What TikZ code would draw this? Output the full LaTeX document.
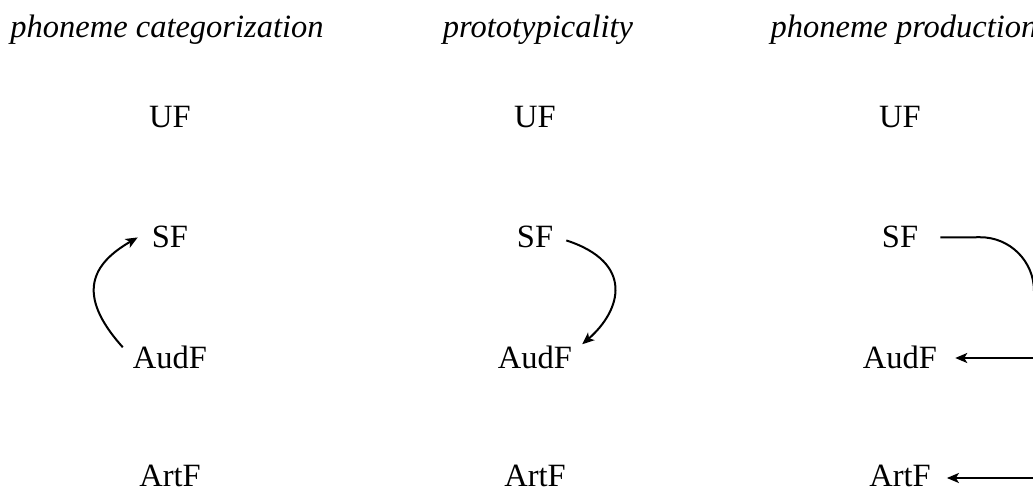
\documentclass[tikz,border=0pt]{standalone}
\usepackage{fontspec}
\setmainfont{Liberation Serif}
\usetikzlibrary{arrows.meta}
\begin{document}
\begin{tikzpicture}[x=1pt,y=1pt,
  lab/.style={anchor=base,inner sep=0pt,font=\fontsize{32.5}{39}\selectfont},
  ttl/.style={anchor=base,inner sep=0pt,font=\fontsize{32.5}{39}\selectfont\itshape},
  conn/.style={line width=2pt,-{Stealth[length=12pt,width=10pt,inset=3pt]}},
  plain/.style={line width=2pt}]
\clip (0,0) rectangle (1033,-490);
% titles
\node[ttl] (t1) at (167,-37) {phoneme categorization};
\node[ttl] (t2) at (538,-37) {prototypicality};
\node[ttl] (t3) at (904,-37) {phoneme production};
% column 1
\node[lab] (uf1) at (170,-127) {UF};
\node[lab] (sf1) at (170,-247) {SF};
\node[lab] (aud1) at (170,-368) {AudF};
\node[lab] (art1) at (170,-486) {ArtF};
% column 2
\node[lab] (uf2) at (535,-127) {UF};
\node[lab] (sf2) at (535,-247) {SF};
\node[lab] (aud2) at (535,-368) {AudF};
\node[lab] (art2) at (535,-486) {ArtF};
% column 3
\node[lab] (uf3) at (900,-127) {UF};
\node[lab] (sf3) at (900,-247) {SF};
\node[lab] (aud3) at (900,-368) {AudF};
\node[lab] (art3) at (900,-486) {ArtF};
% connectors
\draw[conn] ([xshift=-10pt,yshift=-2pt]aud1.north west) .. controls +(132:72) and +(210:52) .. ([xshift=-14pt,yshift=-1pt]sf1.west);
\draw[conn] ([xshift=13pt,yshift=-4pt]sf2.east) .. controls +(-18:72) and +(41:52) .. ([xshift=10pt,yshift=1pt]aud2.north east);
\coordinate (c3a) at (1034,-237);
\coordinate (c3b) at (1034,-358);
\coordinate (c3c) at (1034,-478);
\draw[plain,rounded corners=54pt] ([xshift=22pt,yshift=-1pt]sf3.east) -- (c3a) -- (c3c);
\draw[conn] (c3b) -- ([xshift=18pt]aud3.east |- c3b);
\draw[conn] (c3c) -- ([xshift=16pt]art3.east |- c3c);
\end{tikzpicture}
\end{document}
